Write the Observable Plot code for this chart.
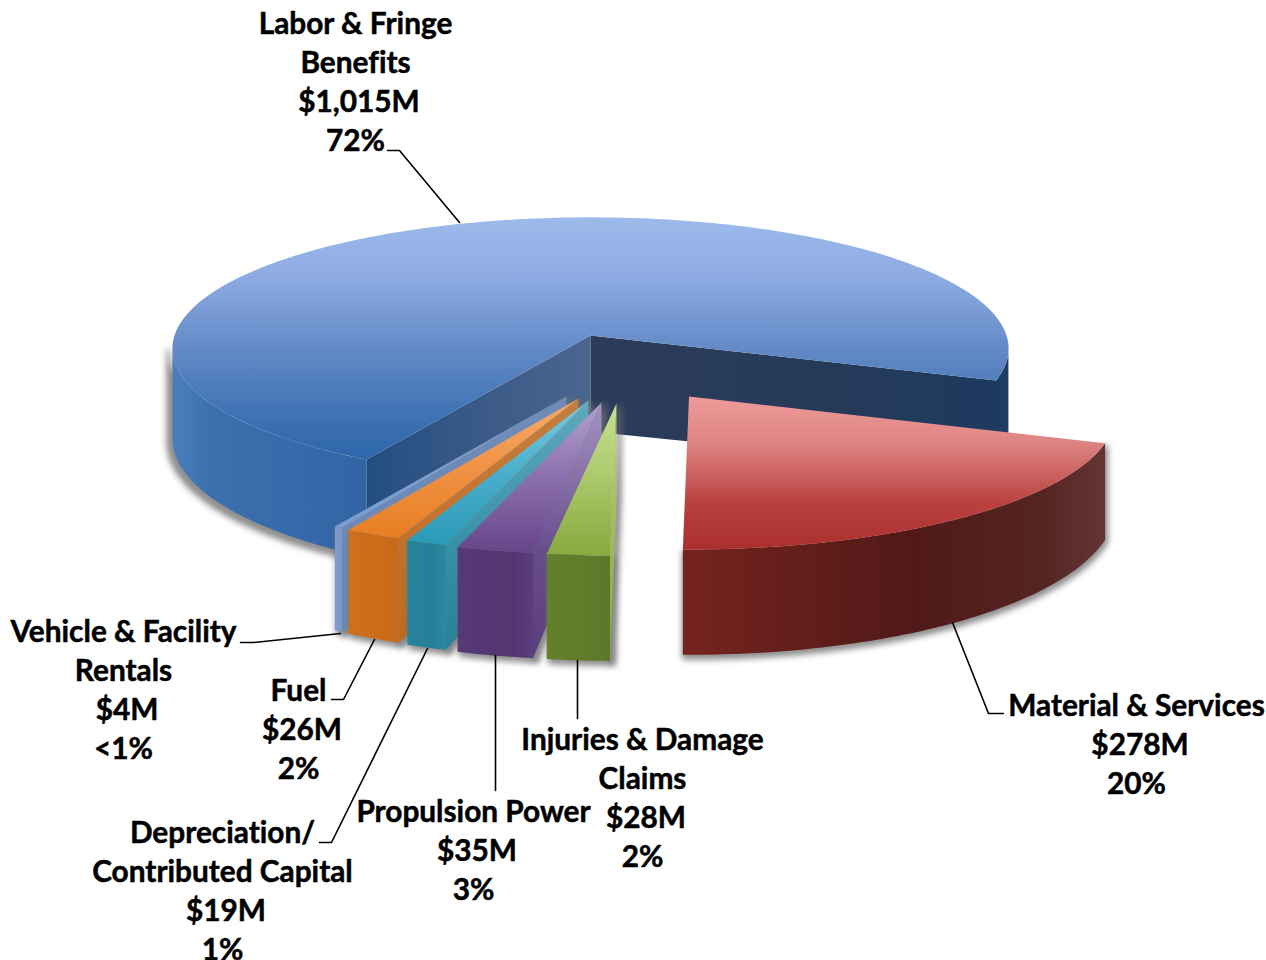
<!DOCTYPE html>
<html>
<head>
<meta charset="utf-8">
<script src="https://cdn.jsdelivr.net/npm/d3@7"></script>
<script src="https://cdn.jsdelivr.net/npm/@observablehq/plot@0.6"></script>
<style>
html,body{margin:0;padding:0;background:#fff}
svg{display:block}
svg text{font-variant-ligatures:none}
.halo{filter:blur(3px)}
</style>
</head>
<body>
<div id="chart"></div>
<script>
// ---- data (clockwise order, as the pie runs) ----
const categories = ["Material & Services","Injuries & Damage Claims","Propulsion Power","Depreciation/ Contributed Capital","Fuel","Vehicle & Facility Rentals","Labor & Fringe Benefits"];
const valuesM = [278,28,35,19,26,4,1015];
const percentLabels = ["20%","2%","3%","1%","2%","<1%","72%"];
const nameLines = [["Material & Services"],["Injuries & Damage","Claims"],["Propulsion Power"],["Depreciation/","Contributed Capital"],["Fuel"],["Vehicle & Facility","Rentals"],["Labor & Fringe","Benefits"]];

// ---- layout ----
const startAngle = 109.5;
const views = [
  {ax:688.5,ay:396,r:1.005,xs:1.02,rx:413,ry:133.5,k:0.122,depth:92.5,apexDepth:93},
  {ax:616,ay:403,r:1,xs:1.08,rx:413,ry:133.5,k:0.122,depth:92.5,apexDepth:93},
  {ax:601,ay:402,r:1,xs:1.06,rx:413,ry:133.5,k:0.122,depth:92.5,apexDepth:93},
  {ax:588,ay:400,r:1,xs:1.05,rx:413,ry:133.5,k:0.122,depth:92.5,apexDepth:93},
  {ax:578,ay:398,r:1,xs:1.045,rx:413,ry:133.5,k:0.122,depth:92.5,apexDepth:93},
  {ax:566,ay:396,r:1,xs:1.02,rx:413,ry:133.5,k:0.122,depth:92.5,apexDepth:93},
  {ax:590,ay:335,r:1,xs:1,rx:416,ry:130,k:0.1,depth:89,apexDepth:96}
];
const labelAnchors = [[1136,715],[642,749],[473,821],[222,842],[298,700],[123,641],[355,33]];
const lineStep = 39.2;
const leaders = [
  [[952,622],[988,713],[1003,713]],
  [[577,660],[577,718]],
  [[495,655],[495,790]],
  [[319,842],[331,842],[427,648]],
  [[331,699],[343,699],[374,639]],
  [[240,642],[253,642],[340,633]],
  [[387,150],[399,150],[459,222]]
];
const gradients = {
  redTop:[ "v",[[0,"#ee9b99"],[.3,"#de8583"],[.7,"#b9413f"],[1,"#ab2f2c"]]],
  redWall:["h",[[0,"#76231f"],[.55,"#501917"],[.85,"#552522"],[1,"#633533"]]],
  greenTop:["v",[[0,"#c8e093"],[.45,"#aecb6e"],[1,"#87a93f"]]],
  greenWall:["h",[[0,"#64802d"],[1,"#5e7829"]]],
  greenFace:["v",[[0,"#b9d47f"],[1,"#82a43e"]]],
  purpleTop:["v",[[0,"#b3a1cf"],[.5,"#8c6fae"],[1,"#664589"]]],
  purpleWall:["h",[[0,"#563a75"],[.75,"#533570"],[1,"#5c3e80"]]],
  purpleFace:["v",[[0,"#a595c0"],[.6,"#674b8c"],[1,"#5b3e7f"]]],
  tealTop:["v",[[0,"#7bcae2"],[.5,"#4aaecb"],[1,"#2a9ab8"]]],
  tealWall:["h",[[0,"#25839c"],[.7,"#277f98"],[1,"#298aa3"]]],
  tealFace:["v",[[0,"#62a8bc"],[.6,"#3690a8"],[1,"#268199"]]],
  orangeTop:["v",[[0,"#f7ab6c"],[.5,"#ef9245"],[1,"#e77e22"]]],
  orangeWall:["h",[[0,"#cf6f1c"],[1,"#c76a1a"]]],
  orangeFace:["v",[[0,"#c47d3f"],[1,"#c06a20"]]],
  vehTop:["v",[[0,"#7f9fd0"],[1,"#7b9ccd"]]],
  vehWall:["h",[[0,"#7f9dcb"],[1,"#7b98c6"]]],
  vehFace:["v",[[0,"#6f8cb8"],[1,"#6c88b4"]]],
  blueTop:["v",[[0,"#9dbaeb"],[.25,"#8dabe2"],[.55,"#6289c6"],[.85,"#3a70b2"],[1,"#2e66ab"]]],
  blueWallL:["h",[[0,"#4e7dbb"],[.08,"#447ab8"],[.2,"#3b6fae"],[1,"#3165a6"]]],
  blueWallR:["h",[[0,"#1c3b63"],[1,"#1f3c62"]]],
  blueFaceL:["h",[[0,"#234e81"],[.55,"#3c5b88"],[1,"#4a668f"]]],
  blueFaceR:["h",[[0,"#2c3c5a"],[.6,"#253a59"],[1,"#1e3a5f"]]]
};
const haloColor = "#6f6f6f";

// ---- geometry derived from the values ----
const total = d3.sum(valuesM);
const bounds = [startAngle];
valuesM.forEach(v => bounds.push(bounds[bounds.length-1] + v/total*360));
const rad = d => d*Math.PI/180;
function rim(i, a, down=false){
  const v = views[i];
  const X = v.r*Math.sin(rad(a)), Y = -v.r*Math.cos(rad(a));
  const s = 1/(1-v.k*Y);
  return {x: v.ax+X*v.rx*v.xs*s, y: v.ay+Y*v.ry*s+(down?v.depth*s:0)};
}
function arc(i,a0,a1,down){
  const n = Math.max(2,Math.ceil(Math.abs(a1-a0)));
  return d3.range(n+1).map(j => rim(i,a0+(a1-a0)*j/n,down));
}
const apex = (i,down) => ({x:views[i].ax, y:views[i].ay+(down?views[i].apexDepth:0)});
const top3 = i => [apex(i), ...arc(i,bounds[i],bounds[i+1])];
const wall = (i,a0,a1) => [...arc(i,a0,a1), ...arc(i,a1,a0,true)];
const face = (i,a) => [apex(i), rim(i,a), rim(i,a,true), apex(i,true)];

const poly = (pts,fill) => Plot.line(pts,{x:"x",y:"y",curve:"linear-closed",fill:`url(#${fill})`,stroke:"none"});
const halo = (pts,dx,dy) => Plot.line(pts,{x:"x",y:"y",curve:"linear-closed",fill:haloColor,stroke:haloColor,strokeWidth:4,strokeOpacity:.75,fillOpacity:.75,dx,dy,className:"halo"});

function defsMark(){
  const ns = "http://www.w3.org/2000/svg";
  const defs = document.createElementNS(ns,"defs");
  for (const [id,[dir,stops]] of Object.entries(gradients)){
    const g = document.createElementNS(ns,"linearGradient");
    g.setAttribute("id",id);
    g.setAttribute("x1",0);g.setAttribute("y1",0);
    g.setAttribute("x2",dir==="h"?1:0);g.setAttribute("y2",dir==="v"?1:0);
    for (const [o,c] of stops){
      const s = document.createElementNS(ns,"stop");
      s.setAttribute("offset",o);s.setAttribute("stop-color",c);
      g.appendChild(s);
    }
    defs.appendChild(g);
  }
  return defs;
}

const L = 6, V = 5, FU = 4, DE = 3, PR = 2, IN = 1, M = 0;
const smallSlice = (i,top,w,f) => [
  halo(wall(i,bounds[i],bounds[i+1]),3,3),
  halo(face(i,bounds[i]),3,3),
  poly(wall(i,bounds[i],bounds[i+1]),w),
  poly(face(i,bounds[i]),f),
  poly(top3(i),top)
];
const pieMarks = [
  // labor: only the silhouette-facing parts of its rim are drawn
  halo(wall(L,bounds[L],265),-4,4),
  poly(wall(L,bounds[L+1]-360-12,bounds[L+1]-360+0.2),"blueWallR"),
  poly(wall(L,bounds[L],265),"blueWallL"),
  poly(face(L,bounds[L]),"blueFaceL"),
  poly(face(L,bounds[L+1]),"blueFaceR"),
  poly(top3(L),"blueTop"),
  ...smallSlice(V,"vehTop","vehWall","vehFace"),
  ...smallSlice(FU,"orangeTop","orangeWall","orangeFace"),
  ...smallSlice(DE,"tealTop","tealWall","tealFace"),
  ...smallSlice(PR,"purpleTop","purpleWall","purpleFace"),
  ...smallSlice(IN,"greenTop","greenWall","greenFace"),
  // material
  halo(wall(M,bounds[M],bounds[M+1]),1,3),
  poly(wall(M,bounds[M],bounds[M+1]),"redWall"),
  poly(top3(M),"redTop")
];

// ---- labels ----
const money = v => "$" + d3.format(",")(v) + "M";
const labelRows = categories.flatMap((c,i) => {
  const [x,y] = labelAnchors[i];
  const rows = [...nameLines[i].map(t => ({t,dx:0})), {t:money(valuesM[i]),dx:3.5}, {t:percentLabels[i],dx:0}];
  return rows.map((r,j) => ({text:r.t, x:x+r.dx, y:y+j*lineStep}));
});
const leaderRows = leaders.flatMap((l,i) => l.map(([x,y]) => ({x,y,i})));

const chart = Plot.plot({
  width:1266, height:960,
  margin:0,
  style:{background:"#fff",overflow:"visible"},
  x:{domain:[0,1266],range:[0,1266],axis:null},
  y:{domain:[0,960],range:[0,960],axis:null},
  marks:[
    defsMark,
    ...pieMarks,
    Plot.line(leaderRows,{x:"x",y:"y",z:"i",stroke:"#000",strokeWidth:1.6,curve:"linear"}),
    Plot.text(labelRows,{x:"x",y:"y",text:"text",textAnchor:"middle",lineAnchor:"bottom",
      fontFamily:"Lato, 'Open Sans', sans-serif",fontWeight:700,fontSize:29.8,fill:"#000",stroke:"#000",strokeWidth:0.5})
  ]
});
document.getElementById("chart").appendChild(chart);
</script>
</body>
</html>
